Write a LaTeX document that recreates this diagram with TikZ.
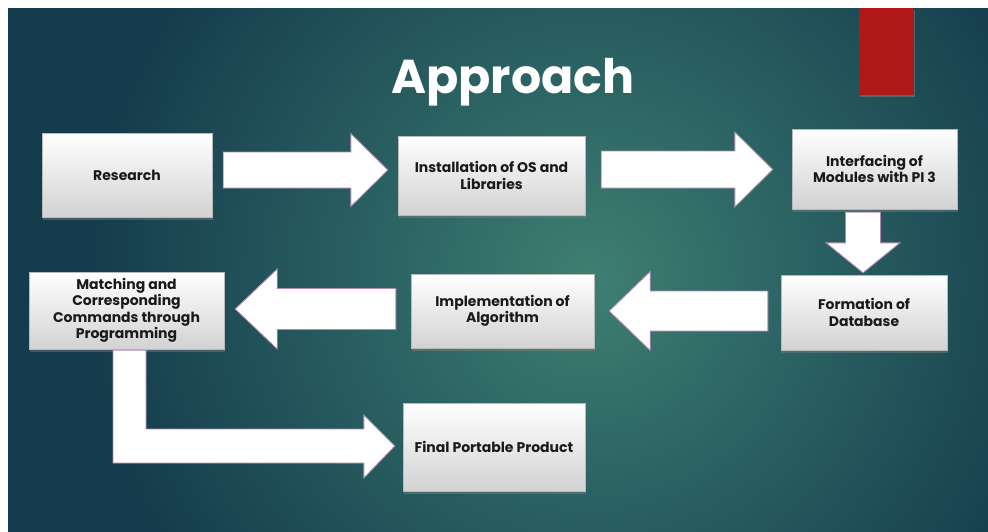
\documentclass[tikz,border=0pt]{standalone}
\usepackage{fontspec}
\setmainfont{Poppins}
\usetikzlibrary{calc,shadows}

\definecolor{bgin}{HTML}{3F7F71}
\definecolor{bgmid}{HTML}{2C6464}
\definecolor{bgout}{HTML}{153C4C}
\definecolor{barred}{HTML}{B01717}
\definecolor{boxgray}{HTML}{D2D2D2}
\definecolor{boxtext}{HTML}{1A1A1A}
\definecolor{arrowedge}{HTML}{B088B4}

\pgfdeclareradialshading{slidebg}{\pgfpoint{0bp}{0bp}}{%
  color(0bp)=(bgin); color(5bp)=(bgmid); color(12.5bp)=(bgout); color(50bp)=(bgout)}

\tikzset{
  stepbox/.style={draw=gray!55, line width=0.4pt, top color=white, bottom color=boxgray,
    inner sep=2pt, align=center, text=boxtext,
    font=\fontsize{14}{16.5}\selectfont\bfseries,
    drop shadow={shadow xshift=1pt, shadow yshift=-2.5pt, opacity=0.45}},
  blockarrow/.style={fill=white, draw=arrowedge, line width=0.9pt, line join=miter},
}

% horizontal block arrow: tail, tip, shaft half width, head half width, signed head length
\newcommand\hblock[5]{%
  \filldraw[blockarrow] ($(#1)+(0,-#3)$) -- ($(#2)+(-#5,-#3)$) -- ($(#2)+(-#5,-#4)$) -- (#2)
    -- ($(#2)+(-#5,#4)$) -- ($(#2)+(-#5,#3)$) -- ($(#1)+(0,#3)$) -- cycle;}
% vertical block arrow (pointing down)
\newcommand\vblock[5]{%
  \filldraw[blockarrow] ($(#1)+(-#3,0)$) -- ($(#2)+(-#3,-#5)$) -- ($(#2)+(-#4,-#5)$) -- (#2)
    -- ($(#2)+(#4,-#5)$) -- ($(#2)+(#3,-#5)$) -- ($(#1)+(#3,0)$) -- cycle;}

\begin{document}
\begin{tikzpicture}[x=1pt, y=-1pt]
  % page and slide background
  \fill[white] (0,0) rectangle (988,531);
  \useasboundingbox (0,0) rectangle (988,531);
  \begin{scope}
    \clip (8,8) rectangle (988,531);
    \shade[shading=slidebg] (590,280) circle (1000);
  \end{scope}

  % red accent bar
  \fill[barred, drop shadow={shadow xshift=1pt, shadow yshift=-2pt, opacity=0.5}] (859,8) rectangle (914,95);

  % title
  \node[anchor=base, text=white, font=\fontsize{47.5}{54}\selectfont\bfseries] (title) at (513,93) {Approach};

  % process steps
  \node[stepbox, minimum width=170pt, minimum height=84pt] (research) at (127,175) {Research};
  \node[stepbox, minimum width=187pt, minimum height=79pt] (install) at (491.5,175.5) {Installation of OS and\\Libraries};
  \node[stepbox, minimum width=165pt, minimum height=80pt] (interf) at (874.5,169) {Interfacing of\\Modules with PI 3};
  \node[stepbox, minimum width=166pt, minimum height=75pt] (formation) at (864,312.5) {Formation of\\Database};
  \node[stepbox, minimum width=183pt, minimum height=74pt] (impl) at (502.5,311) {Implementation of\\Algorithm};
  \node[stepbox, minimum width=195pt, minimum height=77pt] (matching) at (126.5,310.5) {Matching and\\Corresponding\\Commands through\\Programming};
  \node[stepbox, minimum width=182pt, minimum height=88pt] (final) at (494,447) {Final Portable Product};

  % connector end points
  \coordinate (a1s) at ($(research.east)+(11,-5)$);
  \coordinate (a1t) at ($(install.west)+(-10,-5.5)$);
  \coordinate (a2s) at ($(install.east)+(16,-6)$);
  \coordinate (a2t) at ($(interf.west)+(-19,0.5)$);
  \coordinate (a3s) at ($(interf.south)+(-11.5,3)$);
  \coordinate (a3t) at ($(formation.north)+(-1,-2)$);
  \coordinate (a4s) at ($(formation.west)+(-13,-1.5)$);
  \coordinate (a4t) at ($(impl.east)+(15,0)$);
  \coordinate (a5s) at ($(impl.west)+(-15,-2)$);
  \coordinate (a5t) at ($(matching.east)+(11,-1.5)$);
  \coordinate (a6s) at ($(matching.south)+(3,1)$);
  \coordinate (a6t) at ($(final.west)+(-8,-1)$);
  \coordinate (a6c) at (a6s |- a6t);

  % block arrows
  \hblock{a1s}{a1t}{18}{36.5}{37}
  \hblock{a2s}{a2t}{18.5}{37.5}{38}
  \vblock{a3s}{a3t}{17.5}{37}{30}
  \hblock{a4s}{a4t}{20}{39.5}{-41}
  \hblock{a5s}{a5t}{20.5}{40}{-42}
  \filldraw[blockarrow] ($(a6s)+(-16.5,0)$) -- ($(a6c)+(-16.5,17)$) -- ($(a6t)+(-31,17)$)
    -- ($(a6t)+(-31,32)$) -- (a6t) -- ($(a6t)+(-31,-31)$) -- ($(a6t)+(-31,-17)$)
    -- ($(a6c)+(16.5,-17)$) -- ($(a6s)+(16.5,0)$) -- cycle;
\end{tikzpicture}
\end{document}
